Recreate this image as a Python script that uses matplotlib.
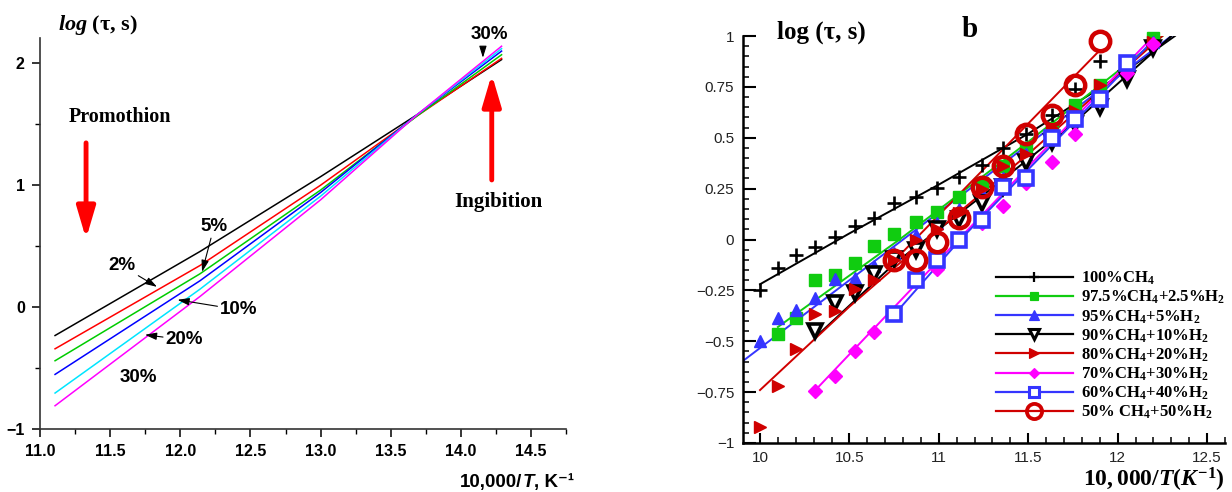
import matplotlib
matplotlib.use("Agg")
import matplotlib.pyplot as plt
from matplotlib.lines import Line2D
from matplotlib.text import Annotation
from matplotlib.ticker import MultipleLocator, FuncFormatter

plt.rcParams['font.family'] = ['Liberation Sans', 'DejaVu Sans']
plt.rcParams['mathtext.fontset'] = 'custom'
plt.rcParams['mathtext.rm'] = 'Liberation Serif:bold'
plt.rcParams['mathtext.it'] = 'Liberation Serif:italic:bold'
plt.rcParams['mathtext.bf'] = 'Liberation Serif:bold'

# ---------------- panel a: model curves ----------------
a_x = [11.107, 12.14, 13.0, 13.69, 14.29]
a_h0 = [-0.233, 0.456, 1.07, 1.58, 2.03]
a_h2 = [-0.342, 0.341, 1.00, 1.57, 2.04]
a_h5 = [-0.44, 0.273, 0.96, 1.57, 2.07]
a_h10 = [-0.552, 0.216, 0.94, 1.58, 2.10]
a_h20 = [-0.705, 0.147, 0.91, 1.58, 2.12]
a_h30 = [-0.809, 0.087, 0.88, 1.58, 2.14]
a_colors = ['black', '#ff0000', '#00cc00', '#0000ff', '#00e5ff', '#ff00ff']
a_xticks = [11.0, 11.5, 12.0, 12.5, 13.0, 13.5, 14.0, 14.5]
a_xticklabels = ['11.0', '11.5', '12.0', '12.5', '13.0', '13.5', '14.0', '14.5']
a_yticks = [-1, 0, 1, 2]
a_yticklabels = ['\u22121', '0', '1', '2']

# ---------------- panel b: measured points + fits ----------------
b_x = [10.0, 10.1, 10.2, 10.31, 10.42, 10.53, 10.64, 10.75, 10.87, 10.99,
       11.11, 11.24, 11.36, 11.49, 11.63, 11.76, 11.9, 12.05, 12.2]

ch4_100 = [-0.25, -0.14, -0.075, -0.035, 0.01, 0.065, 0.105, 0.18, 0.21, 0.255,
           0.305, 0.365, 0.45, 0.52, 0.61, 0.74, 0.875]
h2_2_5 = [-0.465, -0.385, -0.2, -0.175, -0.115, -0.03, 0.025, 0.085, 0.135,
          0.21, 0.28, 0.36, 0.45, 0.55, 0.66, 0.76, 0.87, 0.99]
h2_5 = [-0.5, -0.385, -0.345, -0.285, -0.195, -0.19, -0.13, -0.065, 0.02, 0.08,
        0.15, 0.23, 0.3, 0.42, 0.5, 0.6, 0.7, 0.85, 0.97]
h2_10 = [-0.45, -0.31, -0.265, -0.17, -0.095, -0.05, 0.05, 0.1, 0.18, 0.26,
         0.38, 0.48, 0.57, 0.65, 0.79, 0.94]
h2_20 = [-0.92, -0.72, -0.54, -0.365, -0.35, -0.245, -0.2, -0.1, 0.0, 0.05,
         0.13, 0.25, 0.36, 0.42, 0.55, 0.63, 0.76, 0.86, 0.97]
h2_30 = [-0.745, -0.67, -0.55, -0.455, -0.365, -0.205, -0.145, 0.0, 0.08, 0.165,
         0.28, 0.38, 0.52, 0.69, 0.82, 0.96]
h2_40 = [-0.365, -0.2, -0.1, 0.0, 0.095, 0.26, 0.3, 0.5, 0.59, 0.69, 0.865]
h2_50 = [-0.1, -0.1, -0.01, 0.105, 0.26, 0.36, 0.52, 0.61, 0.76, 0.975]

# first index into b_x for each series
b_start = [0, 1, 0, 3, 0, 3, 7, 7]

fit_x = [[10.0, 10.5, 11.0, 11.5, 12.0, 12.32],
         [10.1, 10.78, 11.5, 12.25],
         [9.9, 10.8, 12.3],
         [10.31, 10.75, 11.25, 11.75, 12.3],
         [10.0, 10.5, 11.0, 11.5, 12.25],
         [10.31, 11.11, 12.2],
         [10.75, 11.11, 12.2],
         [10.8, 11.9]]
fit_y = [[-0.22, 0.03, 0.27, 0.52, 0.8, 1.0],
         [-0.43, 0.0, 0.48, 1.0],
         [-0.6, 0.0, 1.0],
         [-0.48, -0.12, 0.22, 0.57, 1.0],
         [-0.74, -0.33, 0.05, 0.42, 1.0],
         [-0.74, 0.0, 1.0],
         [-0.37, -0.01, 0.98],
         [-0.06, 0.93]]

b_labels = ['100%CH$_4$', '97.5%CH$_4$+2.5%H$_2$', '95%CH$_4$+5%H$_2$',
            '90%CH$_4$+10%H$_2$', '80%CH$_4$+20%H$_2$', '70%CH$_4$+30%H$_2$',
            '60%CH$_4$+40%H$_2$', '50% CH$_4$+50%H$_2$']
b_series = [ch4_100, h2_2_5, h2_5, h2_10, h2_20, h2_30, h2_40, h2_50]

# marker styles: (color, marker, size, face, edge width)
b_styles = [('black', '+', 10, 'black', 1.9),
            ('#10cc10', 's', 8, '#10cc10', 1.0),
            ('#3535ff', '^', 9, '#3535ff', 1.0),
            ('black', 'v', 10, 'white', 2.6),
            ('#d00000', '>', 9, '#d00000', 1.0),
            ('#ff00ff', 'D', 7, '#ff00ff', 1.0),
            ('#3535ff', 's', 10, 'white', 2.6),
            ('#d00000', 'o', 14, 'none', 3.2)]

fig = plt.figure(figsize=(12.32, 4.92), dpi=100)

# ======== panel a ========
ax = fig.add_axes([0.0325, 0.128, 0.427, 0.7947])
for ys, c in zip([a_h0, a_h2, a_h5, a_h10, a_h20, a_h30], a_colors):
    ax.plot(a_x, ys, color=c, lw=1.1)
ax.set_xlim(11.0, 14.75)
ax.set_ylim(-1, 2.207)
for s in ['top', 'right']:
    ax.spines[s].set_visible(False)
for s in ['left', 'bottom']:
    ax.spines[s].set_linewidth(1.2)
    ax.spines[s].set_color('#333333')
ax.set_xticks(a_xticks)
ax.set_xticklabels(a_xticklabels, fontweight='bold', fontsize=11.5)
ax.set_yticks(a_yticks)
ax.set_yticklabels(a_yticklabels, fontweight='bold', fontsize=11.5)
ax.xaxis.set_minor_locator(MultipleLocator(0.25))
ax.yaxis.set_minor_locator(MultipleLocator(0.5))
ax.tick_params(which='major', direction='out', length=6, width=1.1, pad=5)
ax.tick_params(which='minor', direction='out', length=3.5, width=1.0)

bold = dict(fontweight='bold', fontsize=13.5, ha='center', va='center')
arw = dict(arrowstyle='-|>,head_length=0.7,head_width=0.22', mutation_scale=10,
           lw=0.8, color='black', shrinkA=0, shrinkB=0)
ax.annotate('2%', xy=(11.834, 0.166), xytext=(11.584, 0.338), arrowprops=arw, **bold)
ax.annotate('5%', xy=(12.155, 0.289), xytext=(12.24, 0.658), arrowprops=arw, **bold)
ax.annotate('10%', xy=(11.98, 0.06), xytext=(12.418, -0.022), arrowprops=arw, **bold)
ax.annotate('20%', xy=(11.748, -0.227), xytext=(12.03, -0.268), arrowprops=arw, **bold)
ax.text(11.70, -0.58, '30%', **bold)
ax.text(14.20, 2.235, '30%', **bold)
ax.annotate('', xy=(14.157, 2.045), xytext=(14.157, 2.11), arrowprops=arw)

big_red = dict(arrowstyle='-|>,head_length=0.95,head_width=0.28', mutation_scale=20,
               lw=3.5, color='red', shrinkA=0, shrinkB=0)
ax.annotate('', xy=(11.328, 0.56), xytext=(11.328, 1.347), arrowprops=big_red)
ax.annotate('', xy=(14.22, 1.91), xytext=(14.22, 1.043), arrowprops=big_red)

serif = ['Liberation Serif', 'DejaVu Serif']
ax.text(11.57, 1.56, 'Promothion', family=serif, fontweight='bold', fontsize=14.5,
        ha='center', va='center')
ax.text(14.27, 0.863, 'Ingibition', family=serif, fontweight='bold', fontsize=15,
        ha='center', va='center')
ax.text(11.41, 2.31, r'$log$ (τ, s)', family=serif, fontweight='bold', fontsize=16,
        ha='center', va='center')

# axis label of panel a: "10,000/T, K^-1" with italic T, built right to left
lab_k = fig.text(574 / 1232, 1 - 491 / 492, ', K\u207b\u00b9', fontsize=13.5,
                 fontweight='bold', ha='right', va='bottom')
lab_t = fig.add_artist(Annotation('T', xy=(0, 0), xycoords=lab_k, ha='right', va='bottom',
                                  fontsize=13.5, fontweight='bold', fontstyle='italic'))
fig.add_artist(Annotation('10,000/', xy=(0, 0), xycoords=lab_t, ha='right', va='bottom',
                          fontsize=13.5, fontweight='bold'))

# ======== panel b ========
bx = fig.add_axes([0.6028, 0.0996, 0.3915, 0.8272])
handles = []
for ys, start, fx, fy, (c, m, ms, mfc, mew), lab in zip(
        b_series, b_start, fit_x, fit_y, b_styles, b_labels):
    bx.plot(fx, fy, color=c, lw=1.4, zorder=2)
    bx.plot(b_x[start:start + len(ys)], ys, ls='none', marker=m, ms=ms, mfc=mfc,
            mec=c, mew=mew, zorder=3, clip_on=False)
    handles.append(Line2D([], [], color=c, lw=1.6, marker=m, ms=ms * 0.78, mfc=mfc,
                          mec=c, mew=mew * 0.85, label=lab))

bx.set_xlim(9.903, 12.6)
bx.set_ylim(-1, 1)
for s in ['top', 'right']:
    bx.spines[s].set_visible(False)
for s in ['left', 'bottom']:
    bx.spines[s].set_linewidth(1.8)
bx.xaxis.set_major_locator(MultipleLocator(0.5))
bx.xaxis.set_minor_locator(MultipleLocator(0.1))
bx.yaxis.set_major_locator(MultipleLocator(0.25))
bx.yaxis.set_minor_locator(MultipleLocator(0.05))
fmt = FuncFormatter(lambda v, p: f'{v:g}'.replace('-', '\u2212'))
bx.xaxis.set_major_formatter(fmt)
bx.yaxis.set_major_formatter(fmt)
bx.tick_params(which='major', direction='in', width=1.5, labelsize=11, pad=6,
               labelcolor='#222222')
bx.tick_params(axis='y', which='major', length=9)
bx.tick_params(axis='x', which='major', length=7)
bx.tick_params(which='minor', direction='in', width=1.1, length=4.5)

bx.legend(handles=handles, loc='upper left', bbox_to_anchor=(0.525, 0.425),
          frameon=False, borderaxespad=0, borderpad=0,
          prop={'family': serif, 'weight': 'bold', 'size': 12},
          handlelength=4.6, handletextpad=0.5, labelspacing=0.1)

bx.text(10.343, 1.016, 'log (τ, s)', family=serif, fontweight='bold', fontsize=18,
        ha='center', va='center')
bx.text(11.17, 1.03, 'b', family=serif, fontweight='bold', fontsize=21,
        ha='center', va='center')
fig.text(0.9945, 1 - 480 / 492, r'$10,000/T(K^{-1})$', fontsize=17, ha='right', va='center')

fig.savefig('out.png', dpi=100)
